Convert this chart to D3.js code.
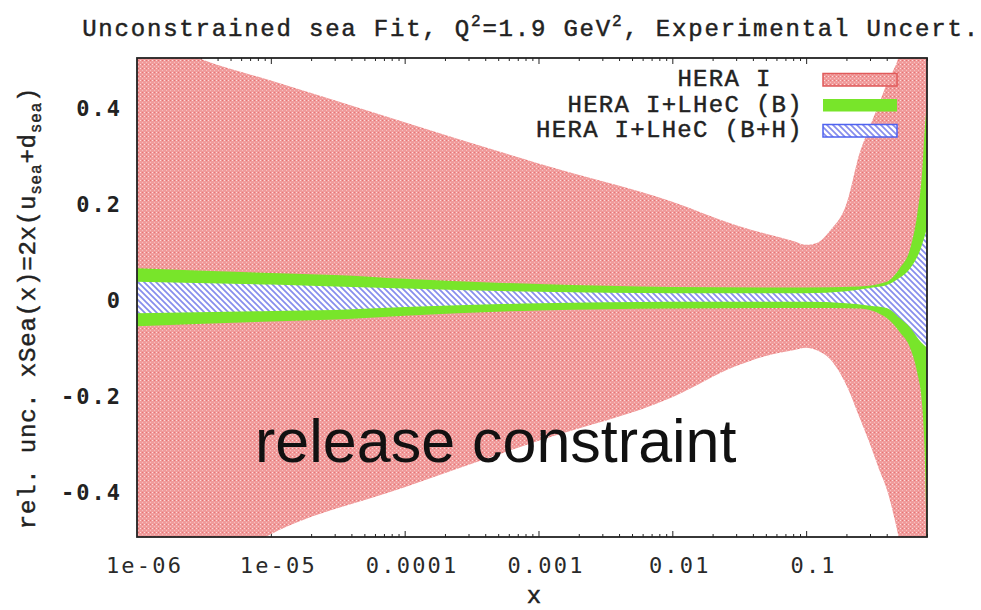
<!DOCTYPE html>
<html>
<head>
<meta charset="utf-8">
<script src="https://cdn.jsdelivr.net/npm/d3@7"></script>
<style>
  body { margin: 0; background: #fff; }
  svg { display: block; }
  .mono { font-family: "Liberation Mono", "Courier New", monospace; fill: #222; stroke: #222; stroke-width: 0.45; }
  .tick text { font-family: "DejaVu Sans Mono", monospace; }
</style>
</head>
<body>
<svg id="chart" width="981" height="610"></svg>
<script>
// ---- HERA I uncertainty band (relative) ----
const heraX    = [1e-6, 3e-6, 1e-5, 1e-4, 1e-3, 1e-2, 0.03, 0.05, 0.08, 0.1, 0.12, 0.15, 0.2, 0.25, 0.3, 0.35, 0.4, 0.5, 0.6, 0.8];
const heraLow  = [-0.72, -0.58, -0.494, -0.396, -0.299, -0.208, -0.143, -0.122, -0.110, -0.105, -0.110, -0.128, -0.183, -0.25, -0.306, -0.358, -0.40, -0.51, -0.62, -0.8];
const heraHigh = [0.56, 0.498, 0.453, 0.366, 0.280, 0.200, 0.151, 0.133, 0.118, 0.110, 0.114, 0.139, 0.195, 0.30, 0.358, 0.404, 0.446, 0.51, 0.62, 0.8];

// ---- HERA I + LHeC (B) ----
const lhecBX    = [1e-6, 1e-5, 3e-5, 1e-4, 1e-3, 1e-2, 0.1, 0.25, 0.4, 0.5, 0.6, 0.675, 0.736, 0.776, 0.8];
const lhecBLow  = [-0.060, -0.050, -0.046, -0.038, -0.027, -0.023, -0.022, -0.023, -0.043, -0.072, -0.106, -0.156, -0.225, -0.365, -0.56];
const lhecBHigh = [0.061, 0.051, 0.047, 0.039, 0.028, 0.022, 0.021, 0.023, 0.033, 0.061, 0.103, 0.172, 0.262, 0.366, 0.40];

// ---- HERA I + LHeC (B+H) ----
const lhecBHX    = [1e-6, 1e-5, 3e-5, 1e-4, 1e-3, 1e-2, 0.1, 0.2, 0.3, 0.4, 0.5, 0.6, 0.72, 0.8];
const lhecBHLow  = [-0.033, -0.028, -0.026, -0.020, -0.012, -0.009, -0.009, -0.012, -0.017, -0.022, -0.043, -0.063, -0.093, -0.105];
const lhecBHHigh = [0.033, 0.027, 0.023, 0.019, 0.012, 0.009, 0.009, 0.013, 0.020, 0.026, 0.041, 0.061, 0.103, 0.145];

const legendLabels = ["HERA I  ", "HERA I+LHeC (B)", "HERA I+LHeC (B+H)"];
const xTickValues = [1e-6, 1e-5, 1e-4, 1e-3, 1e-2, 0.1];
const xTickLabels = ["1e-06", "1e-05", "0.0001", "0.001", "0.01", "0.1"];
const yTickValues = [-0.4, -0.2, 0, 0.2, 0.4];
const yTickLabels = ["-0.4", "-0.2", "0", "0.2", "0.4"];

// ---- layout ----
const X0 = 137, X1 = 927, Y0 = 58, Y1 = 537;
const svg = d3.select("#chart");

const x = d3.scaleLog().domain([1e-6, 0.8]).range([X0, X1]);
const y = d3.scaleLinear().domain([-0.5, 0.5]).range([Y1, Y0]);

// ---- fill patterns ----
const defs = svg.append("defs");
const pRed = defs.append("pattern").attr("id", "redDots")
  .attr("patternUnits", "userSpaceOnUse").attr("width", 4).attr("height", 4);
pRed.append("rect").attr("width", 4).attr("height", 4).attr("fill", "#f09b9b");
pRed.append("rect").attr("x", 0).attr("y", 0).attr("width", 1).attr("height", 1).attr("fill", "#fbdcdc");
pRed.append("rect").attr("x", 2).attr("y", 2).attr("width", 1).attr("height", 1).attr("fill", "#f6c0c0");
pRed.append("rect").attr("x", 2).attr("y", 0).attr("width", 1).attr("height", 1).attr("fill", "#e67474");

const pBlue = defs.append("pattern").attr("id", "blueHatch")
  .attr("patternUnits", "userSpaceOnUse").attr("width", 6).attr("height", 6);
pBlue.append("rect").attr("width", 6).attr("height", 6).attr("fill", "#ffffff");
pBlue.append("path").attr("d", "M-1,-1L7,7M-1,5L1,7M5,-1L7,1")
  .attr("stroke", "#868ded").attr("stroke-width", 1.7).attr("fill", "none");

defs.append("clipPath").attr("id", "plotClip")
  .append("rect").attr("x", X0).attr("y", Y0).attr("width", X1 - X0).attr("height", Y1 - Y0);

// ---- ticks (drawn under the bands) ----
const minorTicks = [];
for (let k = -6; k <= -1; k++) {
  for (let m = 2; m <= 9; m++) {
    const v = m * Math.pow(10, k);
    if (v <= 0.8) minorTicks.push(v);
  }
}

const axes = svg.append("g").attr("stroke-width", 1);

axes.append("g").attr("transform", `translate(0,${Y1})`)
  .call(d3.axisBottom(x).tickValues(minorTicks).tickFormat("").tickSizeInner(-3).tickSizeOuter(0));
axes.append("g").attr("transform", `translate(0,${Y0})`)
  .call(d3.axisTop(x).tickValues(minorTicks).tickFormat("").tickSizeInner(-3).tickSizeOuter(0));
axes.append("g").attr("transform", `translate(0,${Y0})`)
  .call(d3.axisTop(x).tickValues(xTickValues).tickFormat("").tickSizeInner(-6).tickSizeOuter(0));
axes.append("g").attr("transform", `translate(${X1},0)`)
  .call(d3.axisRight(y).tickValues(yTickValues).tickFormat("").tickSizeInner(-6).tickSizeOuter(0));

const gx = axes.append("g").attr("transform", `translate(0,${Y1})`)
  .call(d3.axisBottom(x).tickValues(xTickValues).tickFormat((d, i) => xTickLabels[i])
    .tickSizeInner(-6).tickSizeOuter(0).tickPadding(20));
gx.selectAll("text").attr("dx", 7).attr("font-size", 22).attr("letter-spacing", 2.2).attr("fill", "#2a2a2a");

const gy = axes.append("g").attr("transform", `translate(${X0},0)`)
  .call(d3.axisLeft(y).tickValues(yTickValues).tickFormat((d, i) => yTickLabels[i])
    .tickSizeInner(-6).tickSizeOuter(0).tickPadding(15));
gy.selectAll("text").attr("class", "mono").attr("font-size", 22).attr("font-weight", "bold")
  .attr("letter-spacing", 2).attr("dy", "0.45em").style("stroke-width", 0);

axes.selectAll(".domain").remove();
axes.selectAll(".tick line").attr("stroke", "#222");

// ---- bands ----
const area = d3.area()
  .x(d => x(d.x)).y0(d => y(d.lo)).y1(d => y(d.hi))
  .curve(d3.curveMonotoneX);

const toRows = (xs, lo, hi) => xs.map((v, i) => ({ x: v, lo: lo[i], hi: hi[i] }));
const bands = svg.append("g").attr("clip-path", "url(#plotClip)");
bands.append("path").attr("d", area(toRows(heraX, heraLow, heraHigh))).attr("fill", "url(#redDots)");
bands.append("path").attr("d", area(toRows(lhecBX, lhecBLow, lhecBHigh))).attr("fill", "#78e52a");
bands.append("path").attr("d", area(toRows(lhecBHX, lhecBHLow, lhecBHHigh))).attr("fill", "url(#blueHatch)");

// ---- frame ----
svg.append("rect").attr("x", X0).attr("y", Y0).attr("width", X1 - X0).attr("height", Y1 - Y0)
  .attr("fill", "none").attr("stroke", "#222").attr("stroke-width", 1.8);

// ---- legend ----
const legend = svg.append("g");
const legendStyles = [
  { fill: "url(#redDots)", stroke: "#e05a5a" },
  { fill: "#78e52a", stroke: "none" },
  { fill: "url(#blueHatch)", stroke: "#4f63f0" }
];
legendLabels.forEach((label, i) => {
  const base = 86 + i * 25.5;
  legend.append("text").attr("class", "mono")
    .attr("x", 803).attr("y", base)
    .attr("text-anchor", "end").attr("font-size", 24)
    .attr("letter-spacing", 1.3)
    .style("white-space", "pre")
    .text(label);
  legend.append("rect")
    .attr("x", 823).attr("y", base - 12.5).attr("width", 74).attr("height", 12.5)
    .attr("fill", legendStyles[i].fill)
    .attr("stroke", legendStyles[i].stroke).attr("stroke-width", 1.5);
});

// ---- titles ----
const title = svg.append("text").attr("class", "mono")
  .attr("x", 531).attr("y", 36).attr("text-anchor", "middle")
  .attr("font-size", 24).attr("letter-spacing", 1.8);
title.append("tspan").text("Unconstrained sea Fit, Q");
title.append("tspan").attr("font-size", 16).attr("dy", -10).text("2");
title.append("tspan").attr("dy", 10).text("=1.9 GeV");
title.append("tspan").attr("font-size", 16).attr("dy", -10).text("2");
title.append("tspan").attr("dy", 10).text(", Experimental Uncert.");

const yTitle = svg.append("text").attr("class", "mono")
  .attr("transform", "translate(35,308) rotate(-90)").attr("text-anchor", "middle")
  .attr("font-size", 24).attr("letter-spacing", 0.8);
yTitle.append("tspan").text("rel. unc. xSea(x)=2x(u");
yTitle.append("tspan").attr("font-size", 16).attr("dy", 6).text("sea");
yTitle.append("tspan").attr("dy", -6).text("+d");
yTitle.append("tspan").attr("font-size", 16).attr("dy", 6).text("sea");
yTitle.append("tspan").attr("dy", -6).text(")");

svg.append("text").attr("class", "mono")
  .attr("x", 534).attr("y", 603).attr("text-anchor", "middle")
  .attr("font-size", 24).text("x");

svg.append("text")
  .attr("x", 255).attr("y", 462)
  .attr("font-family", "Liberation Sans, Arial, sans-serif").attr("font-size", 61)
  .attr("fill", "#111").text("release constraint");
</script>
</body>
</html>
